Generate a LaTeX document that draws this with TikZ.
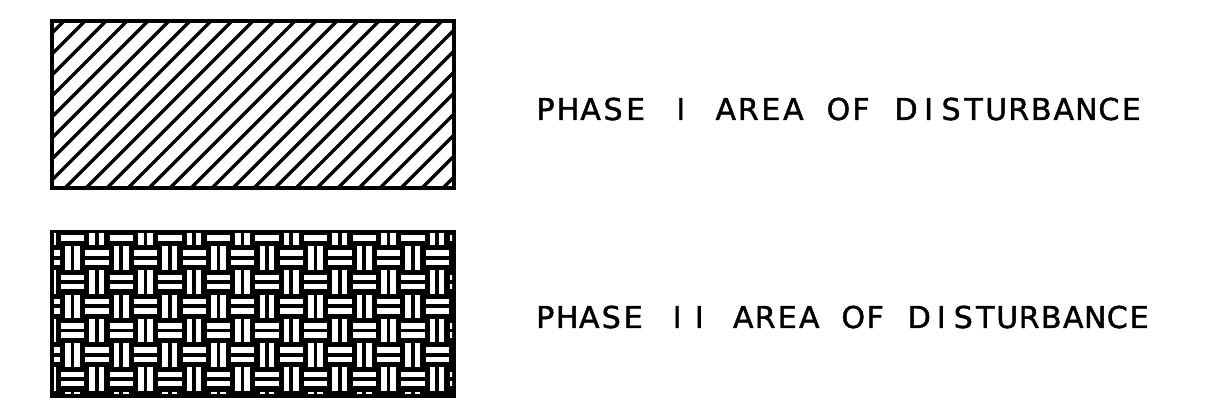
\documentclass[tikz,border=0pt]{standalone}
\usepackage{fontspec}
\setmainfont{DejaVu Sans}
\newfontfamily\cadfont{DejaVu Sans}[FakeBold=1.4]
\usepackage{tikz}
\usetikzlibrary{positioning}
\makeatletter
% fixed pitch lettering, one box per character
\newcommand\cadtext[2]{\@tfor\cad@ch:=#2\do{\makebox[#1][c]{\cad@ch}}}
\makeatother

\tikzset{
  frameline/.style={line width=3pt},
  hatchline/.style={line width=2.6pt},
  legendtext/.style={anchor=base west, inner sep=0pt, font=\cadfont\fontsize{22.6pt}{27pt}\selectfont}
}

\begin{document}
\begin{tikzpicture}[x=0.75pt, y=-0.75pt]
            \useasboundingbox (0,0) rectangle (1210,416);
            % phase I: diagonal hatch
            \begin{scope}
                \clip (52,21) rectangle (454,188);
                \foreach \c in {64,85,...,652}
                    \draw[hatchline] (\c,0) -- (\c-300,300);
            \end{scope}
            \draw[frameline] (52,21) rectangle (454,188);
            % phase II: basket weave
            \fill[black] (50,230) rectangle (456,398);
            \begin{scope}
                \clip (54,234) rectangle (452,394);
                \foreach \i in {-1,...,16}
                \foreach \j in {0,...,7} {
                    \pgfmathsetmacro\cx{60.5+24.3*\i}
                    \pgfmathsetmacro\cy{221.5+24.25*\j}
                    \pgfmathtruncatemacro\odd{mod(\i+\j+2,2)}
                    \ifnum\odd=0
                        \fill[white] (\cx+0.5,\cy+4.6) rectangle (\cx+23.8,\cy+10.2);
                        \fill[white] (\cx+0.5,\cy+13.8) rectangle (\cx+23.8,\cy+19.4);
                    \else
                        \fill[white] (\cx+4.6,\cy+0.5) rectangle (\cx+10.2,\cy+23.8);
                        \fill[white] (\cx+13.8,\cy+0.5) rectangle (\cx+19.4,\cy+23.8);
                    \fi
                }
            \end{scope}
            \node[legendtext] (phaseone) at (534,120) {\cadtext{16.9pt}{PHASE~I~AREA~OF~DISTURBANCE}};
            \node[legendtext] (phasetwo) at (534,328) {\cadtext{16.5pt}{PHASE~II~AREA~OF~DISTURBANCE}};
        \end{tikzpicture}
\end{document}
